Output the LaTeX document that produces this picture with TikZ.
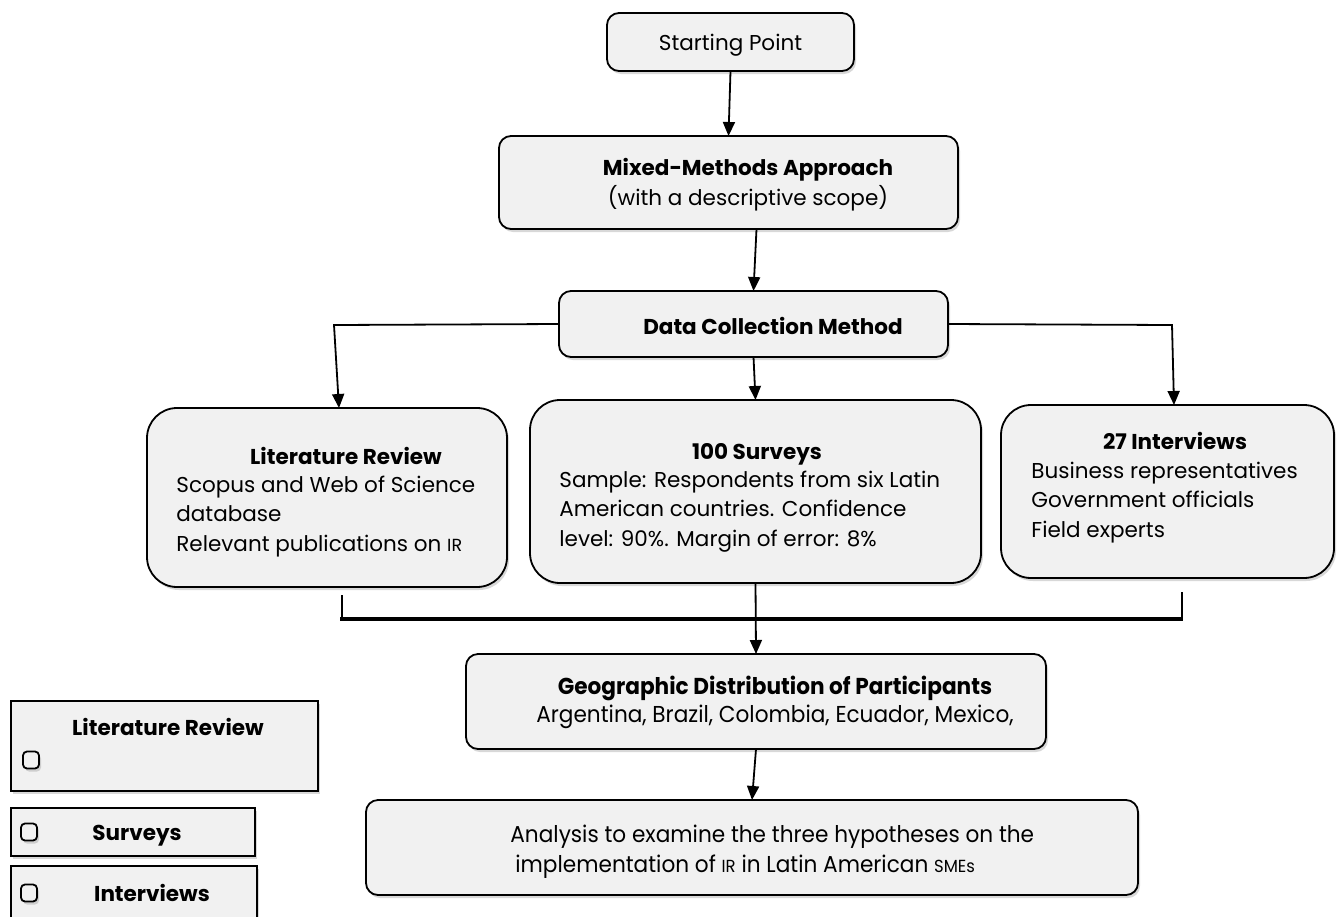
\documentclass[tikz,border=0pt]{standalone}
\usepackage{fontspec}
\setmainfont{Poppins}
\newfontfamily\narrowfont[FakeStretch=0.94]{Poppins}
\usepackage{tikz}
\usetikzlibrary{arrows.meta,shadows,calc}
\definecolor{boxgray}{HTML}{F1F1F1}
\newcommand{\smcap}[1]{{\fontsize{8.75}{10}\selectfont #1}}

\begin{document}
\begin{tikzpicture}[x=0.5pt,y=-0.5pt,
  box/.style={draw, line width=0.9pt, fill=boxgray, rounded corners=6pt, inner sep=0pt, outer sep=0pt,
    drop shadow={shadow xshift=1pt, shadow yshift=-1.5pt, opacity=0.3}},
  big/.style={box, rounded corners=15pt},
  leg/.style={box, sharp corners},
  chk/.style={box, line width=0.9pt, rounded corners=2pt, minimum width=8pt, minimum height=8.5pt},
  txt/.style={font=\fontsize{10.75}{14.75}\selectfont, inner sep=0pt, anchor=base},
  ttl/.style={font=\fontsize{10.75}{14.75}\selectfont\bfseries, inner sep=0pt, anchor=base},
  body/.style={txt, align=left, anchor=base west},
  arr/.style={-{Triangle[length=7pt,width=6pt]}, line width=0.9pt},
  link/.style={line width=0.9pt},
  bar/.style={line width=1.6pt},
]
\fill[white] (0,0) rectangle (1337,916);
\useasboundingbox (0,0) rectangle (1337,916);
% main chain
\node[box, minimum width=123.5pt, minimum height=29pt, text depth=0pt, font=\fontsize{10.75}{14.75}\selectfont] (start) at (730.5,42) {Starting Point};
\node[box, minimum width=229.5pt, minimum height=46.5pt] (mixed) at (728.5,182.5) {};
\node[ttl] (mixed-t) at (748,175) {Mixed-Methods Approach};
\node[txt] (mixed-s) at (748,205) {(with a descriptive scope)};
\node[box, minimum width=194.5pt, minimum height=33pt] (data) at (753.5,324) {};
\node[ttl] (data-t) at (773,334) {Data Collection Method};
% collection methods
\node[big, minimum width=180pt, minimum height=89.5pt] (lit) at (327,497.5) {};
\node[ttl] (lit-t) at (346,464) {Literature Review};
\node[body] (lit-b) at (176,551) {Scopus and Web of Science\\database\\Relevant publications on \smcap{IR}};
\node[big, minimum width=225.5pt, minimum height=91.5pt] (surv) at (755.5,491.5) {};
\node[ttl] (surv-t) at (757,459) {100 Surveys};
\node[body] (surv-b) at (559,546) {Sample: Respondents from six Latin\\American countries. Confidence\\level: 90\%. Margin of error: 8\%};
\node[big, minimum width=166.5pt, minimum height=86.5pt] (intv) at (1167.5,491.5) {};
\node[ttl] (intv-t) at (1175,449) {27 Interviews};
\node[body] (intv-b) at (1031,537) {Business representatives\\Government officials\\Field experts};
% participants and analysis
\node[box, minimum width=290pt, minimum height=47.5pt] (geo) at (756,701.5) {};
\node[ttl, font=\narrowfont\fontsize{11.5}{14.75}\selectfont\bfseries] (geo-t) at (775,694) {Geographic Distribution of Participants};
\node[txt, font=\narrowfont\fontsize{11.5}{14.75}\selectfont] (geo-s) at (775,722) {Argentina, Brazil, Colombia, Ecuador, Mexico,};
\node[box, minimum width=386pt, minimum height=47.5pt] (ana) at (752,847.5) {};
\node[body, font=\narrowfont\fontsize{11.5}{15}\selectfont] (ana-b) at (510,872) {Analysis to examine the three hypotheses on the\\\hspace{2.5pt}implementation of \smcap{IR} in Latin American \smcap{SMEs}};
% legend
\node[leg, minimum width=153.5pt, minimum height=45pt] (leg-lit) at (164.5,746) {};
\node[ttl] (leg-lit-t) at (168,735) {Literature Review};
\node[chk] (chk-lit) at (31,760) {};
\node[leg, minimum width=122pt, minimum height=24pt] (leg-surv) at (133,832) {};
\node[ttl] (leg-surv-t) at (137,840) {Surveys};
\node[chk] (chk-surv) at (29,832) {};
\node[leg, minimum width=123pt, minimum height=30pt] (leg-intv) at (134,896) {};
\node[ttl] (leg-intv-t) at (152,901) {Interviews};
\node[chk] (chk-intv) at (29,893) {};
% connectors
\draw[arr] (start.south) -- (mixed.north);
\draw[arr] ([xshift=14pt]mixed.south) -- (data.north);
\coordinate (lft) at (334,325);
\coordinate (rgt) at (1172,325);
\draw[arr] (data.west) -- (lft) -- ([xshift=6pt]lit.north);
\draw[arr] (data.east) -- (rgt) -- ([xshift=3.25pt]intv.north);
\draw[arr] (data.south) -- (surv.north);
% merge bar
\coordinate (barL) at (340,619);
\coordinate (barR) at (1183,619);
\coordinate (tickL) at (342,595);
\coordinate (tickR) at (1182,592);
\draw[bar] (barL) -- (barR);
\draw[link] (tickL) -- (tickL |- barL);
\draw[link] (tickR) -- (tickR |- barR);
\draw[arr] (surv.south) -- (geo.north);
\draw[arr] (geo.south) -- (ana.north);
\end{tikzpicture}
\end{document}
